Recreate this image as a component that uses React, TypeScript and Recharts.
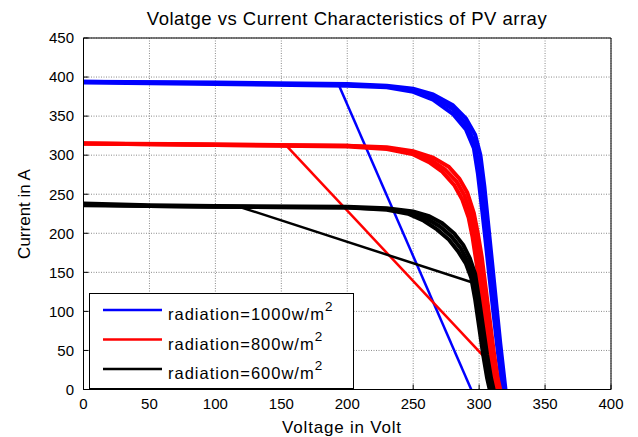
import React from "react";
import { LineChart, Line, XAxis, YAxis, CartesianGrid } from "recharts";

const VOLT_TICKS = [0, 50, 100, 150, 200, 250, 300, 350, 400];
const AMP_TICKS = [0, 50, 100, 150, 200, 250, 300, 350, 400, 450];

// 1000 w/m2 - the curve is a band of several runs: outer, middle and inner edge
const blueOuterV = [0, 100, 200, 230, 250, 265, 280, 290, 297, 301, 304, 307, 310, 313, 316, 319, 320];
const blueOuterI = [394, 393, 391, 389, 385, 378, 364, 347, 326, 300, 260, 210, 160, 110, 60, 15, 0];
const blueMidV = [0, 100, 200, 230, 250, 265, 280, 290, 296, 300, 303, 306, 309, 312, 315, 318, 319];
const blueMidI = [394, 392, 390, 388, 383, 375, 359, 340, 318, 287, 247, 199, 151, 103, 56, 13, 0];
const blueInnerV = [0, 100, 200, 230, 250, 265, 280, 290, 296, 299, 302, 305, 308, 311, 314, 317, 318];
const blueInnerI = [393, 391, 389, 387, 381, 371, 353, 333, 309, 277, 234, 188, 141, 96, 51, 10, 0];
const blueLoadV = [193, 294];
const blueLoadI = [392, 0];

// 800 w/m2
const redOuterV = [0, 100, 200, 230, 250, 265, 277, 285, 291, 296, 299, 302, 305, 308, 311, 314, 316];
const redOuterI = [315, 314, 312, 310, 305, 297, 285, 270, 252, 226, 200, 170, 130, 90, 50, 15, 0];
const redMidV = [0, 100, 200, 230, 250, 263, 274, 283, 289, 294, 297, 300, 303, 306, 309, 312, 314];
const redMidI = [315, 313, 312, 309, 303, 294, 282, 266, 248, 223, 198, 166, 128, 89, 50, 15, 0];
const redInnerV = [0, 100, 200, 230, 250, 262, 272, 281, 287, 292, 295, 298, 301, 304, 307, 310, 312];
const redInnerI = [315, 313, 311, 308, 301, 291, 279, 262, 244, 220, 195, 162, 125, 87, 50, 15, 0];
const redLoadV = [154, 312];
const redLoadI = [312, 27];

// 600 w/m2
const blackOuterV = [0, 50, 100, 200, 230, 250, 262, 272, 281, 288, 293, 297, 300, 303, 306, 309, 311];
const blackOuterI = [238, 236, 235, 234, 232, 228, 222, 213, 200, 185, 168, 148, 115, 80, 45, 15, 0];
const blackMidV = [0, 50, 100, 200, 230, 248, 260, 270, 279, 286, 291, 295, 298, 301, 304, 307, 309];
const blackMidI = [237, 235, 234, 233, 231, 226, 219, 209, 196, 181, 165, 146, 115, 80, 45, 15, 0];
const blackInnerV = [0, 50, 100, 200, 230, 246, 258, 268, 277, 284, 290, 294, 297, 300, 303, 306, 308];
const blackInnerI = [236, 235, 234, 233, 230, 225, 216, 205, 192, 177, 161, 143, 115, 80, 45, 15, 0];
const blackLoadV = [118, 295];
const blackLoadI = [234, 137];

const legendNames = ["radiation=1000w/m", "radiation=800w/m", "radiation=600w/m"];
const legendColors = ["#0000ff", "#ff0000", "#000000"];

const zip = (v: number[], i: number[]) => v.map((x, k) => ({ v: x, i: i[k] }));

const series = [
  { key: "b1", data: zip(blueOuterV, blueOuterI), color: "#0000ff", w: 4 },
  { key: "b2", data: zip(blueMidV, blueMidI), color: "#0000ff", w: 4 },
  { key: "b3", data: zip(blueInnerV, blueInnerI), color: "#0000ff", w: 4 },
  { key: "bl", data: zip(blueLoadV, blueLoadI), color: "#0000ff", w: 2.5 },
  { key: "r1", data: zip(redOuterV, redOuterI), color: "#ff0000", w: 4 },
  { key: "r2", data: zip(redMidV, redMidI), color: "#ff0000", w: 4 },
  { key: "r3", data: zip(redInnerV, redInnerI), color: "#ff0000", w: 4 },
  { key: "rl", data: zip(redLoadV, redLoadI), color: "#ff0000", w: 2.5 },
  { key: "k1", data: zip(blackOuterV, blackOuterI), color: "#000000", w: 4 },
  { key: "k2", data: zip(blackMidV, blackMidI), color: "#000000", w: 4 },
  { key: "k3", data: zip(blackInnerV, blackInnerI), color: "#000000", w: 4 },
  { key: "kl", data: zip(blackLoadV, blackLoadI), color: "#000000", w: 2.5 },
];

const FONT = "'Liberation Sans', Arial, Helvetica, sans-serif";

function Overlay() {
  return (
    <svg width={638} height={437} style={{ position: "absolute", left: 0, top: 0, pointerEvents: "none" }}>
      <text x={347} y={25} textAnchor="middle" fontSize={18.5} fill="#000" fontFamily={FONT} letterSpacing={0.5}>
        Volatge vs Current Characteristics of PV array
      </text>
      <rect x={89.5} y={293.5} width={264} height={95} fill="#fff" stroke="#000" strokeWidth={1} />
      {legendNames.map((name, k) => (
        <g key={name}>
          <line x1={103} x2={162} y1={310 + k * 29.5} y2={310 + k * 29.5} stroke={legendColors[k]} strokeWidth={2.5} />
          <text x={168} y={320 + k * 29.5} fontSize={16.5} fill="#000" fontFamily={FONT} letterSpacing={1}>
            {name}
            <tspan dy={-9} fontSize={13.5}>2</tspan>
          </text>
        </g>
      ))}
    </svg>
  );
}

export default function App() {
  return (
    <div style={{ position: "absolute", left: 0, top: 0, width: 638, height: 437, background: "#fff", fontFamily: FONT }}>
      <LineChart width={638} height={437} margin={{ top: 37, right: 26, bottom: 0, left: 0 }}>
        <CartesianGrid stroke="#8a8a8a" strokeDasharray="1 1.5" />
        <XAxis
          dataKey="v"
          type="number"
          domain={[0, 400]}
          ticks={VOLT_TICKS}
          height={47.5}
          tickSize={-5}
          tickMargin={14}
          stroke="#000"
          tick={{ fill: "#000", fontSize: 15 }}
          label={{
            content: () => (
              <text x={342} y={433} textAnchor="middle" fontSize={17} fill="#000" fontFamily={FONT} letterSpacing={0.8}>
                Voltage in Volt
              </text>
            ),
          }}
        />
        <XAxis
          xAxisId="t"
          orientation="top"
          dataKey="v"
          type="number"
          domain={[0, 400]}
          ticks={VOLT_TICKS}
          height={1}
          tickSize={-5}
          tick={false}
          stroke="#000"
        />
        <YAxis
          type="number"
          domain={[0, 450]}
          ticks={AMP_TICKS}
          width={83.5}
          tickSize={-5}
          tickMargin={14.5}
          stroke="#000"
          tick={{ fill: "#000", fontSize: 15 }}
          label={{
            content: () => (
              <text transform="translate(24,214) rotate(-90)" textAnchor="middle" dominantBaseline="central" fontSize={17} fill="#000" fontFamily={FONT}>
                Current in A
              </text>
            ),
          }}
        />
        <YAxis
          yAxisId="r"
          orientation="right"
          type="number"
          domain={[0, 450]}
          ticks={AMP_TICKS}
          width={1}
          tickSize={-5}
          tick={false}
          stroke="#000"
        />
        {series.map((s) => (
          <Line
            key={s.key}
            data={s.data}
            dataKey="i"
            type="linear"
            stroke={s.color}
            strokeWidth={s.w}
            dot={false}
            activeDot={false}
            isAnimationActive={false}
            legendType="none"
          />
        ))}
      </LineChart>
      <Overlay />
    </div>
  );
}
